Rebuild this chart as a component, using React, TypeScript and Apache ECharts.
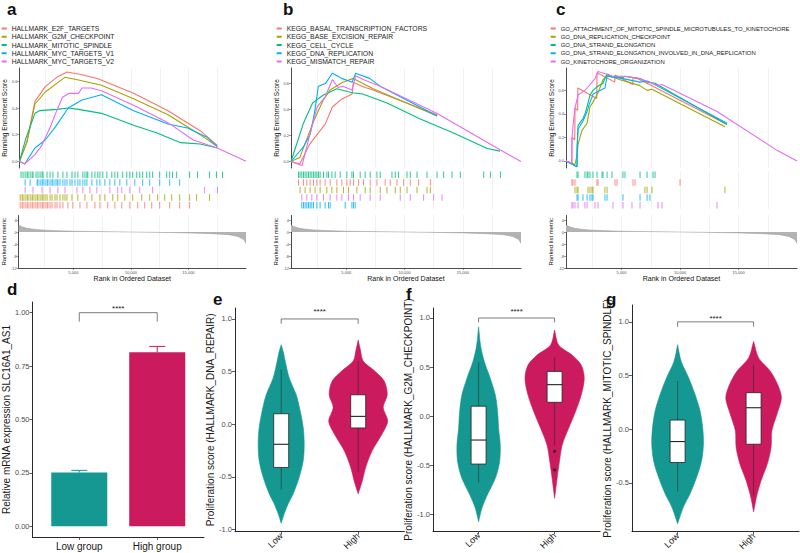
import React, { useEffect, useRef } from 'react';
import * as echarts from 'echarts';

const HUE = ['#F8766D', '#A3A500', '#00BF7D', '#00B0F6', '#E76BF3'];
const TEAL = '#149891';
const PINK = '#CC1A5F';
const FONT = 'Liberation Sans, Arial, Helvetica, sans-serif';

const XMIN = 250;
const XMAX = 20000;
const rankGrid = [2500, 5000, 7500, 10000, 12500, 15000, 17500];
const rankTicks = [5000, 10000, 15000];
const esTicks = [0, 0.2, 0.4, 0.6];
const metricTicks = [-12, -8, -4, 0, 4];

// ---------- panel a ----------
const aNames = ['HALLMARK_E2F_TARGETS', 'HALLMARK_G2M_CHECKPOINT', 'HALLMARK_MITOTIC_SPINDLE', 'HALLMARK_MYC_TARGETS_V1', 'HALLMARK_MYC_TARGETS_V2'];
const aE2F = [[250, 0], [900, 0.15], [1600, 0.45], [2500, 0.56], [3500, 0.63], [4400, 0.67], [5700, 0.65], [7100, 0.62], [10200, 0.51], [13200, 0.38], [16000, 0.23], [17500, 0.12]];
const aG2M = [[250, 0], [900, 0.14], [1600, 0.43], [2500, 0.52], [4200, 0.63], [5400, 0.61], [7400, 0.57], [10200, 0.47], [13200, 0.35], [16000, 0.2], [17500, 0.11]];
const aMitotic = [[250, 0], [800, 0.17], [1600, 0.36], [2000, 0.38], [3500, 0.39], [4500, 0.4], [5400, 0.39], [7400, 0.36], [10200, 0.27], [12300, 0.21], [14300, 0.14], [16000, 0.13], [17500, 0.1]];
const aMycV1 = [[250, 0], [700, -0.02], [1600, 0.1], [2500, 0.16], [3400, 0.26], [4500, 0.4], [5700, 0.46], [7400, 0.5], [10200, 0.38], [13200, 0.28], [14900, 0.25], [16600, 0.18], [17500, 0.11]];
const aMycV2 = [[250, 0], [700, -0.02], [1600, 0.05], [2200, 0.12], [2900, 0.25], [3500, 0.38], [4000, 0.48], [4600, 0.51], [5400, 0.51], [5700, 0.55], [6500, 0.55], [7400, 0.53], [10200, 0.42], [13200, 0.29], [15400, 0.16], [17500, 0.1], [20000, 0]];
const aHitGreen = [600, 770, 950, 1120, 1200, 1380, 1550, 1630, 1890, 2060, 2240, 2410, 2490, 2840, 3100, 3350, 3780, 4210, 4560, 4990, 5250, 5500, 5930, 6110, 6280, 6360, 6710, 6970, 7220, 7400, 7650, 8000, 8430, 8690, 8940, 9370, 9720, 9980, 10230, 10580, 10840, 11090, 11440, 11700, 11950, 12560, 13160, 13420, 13670, 14020, 15140, 15820, 16860, 17460, 17970];
const aHitBlue = [950, 1380, 1980, 2060, 2240, 2410, 2490, 2670, 2840, 2920, 3100, 3270, 3350, 3530, 3700, 3780, 3960, 4210, 4390, 4560, 4820, 4990, 5250, 5500, 5680, 5930, 6110, 6280, 6710, 7140, 7400, 7830, 8260, 8690, 9120, 9720, 10410, 11090, 11700, 12560, 13420, 14280];
const aHitPurple = [950, 1630, 2410, 3100, 3780, 4390, 5420, 5930, 6540, 7140, 8260, 8940, 9290, 9980, 10840, 11950, 16430, 17540];
const aHitOlive = [520, 690, 770, 950, 1120, 1200, 1380, 1550, 1630, 1810, 1980, 2060, 2240, 2410, 2490, 2670, 2840, 3100, 3270, 3530, 3700, 3960, 4210, 4390, 4560, 4990, 5500, 6110, 6710, 7400, 7830, 8510, 8940, 9550, 10230, 11010, 11700, 12380, 12990, 13590, 14280, 15140, 15740, 16860];
const aHitRed = [520, 690, 770, 950, 1120, 1200, 1380, 1550, 1630, 1810, 1980, 2060, 2240, 2410, 2490, 2670, 2840, 2920, 3100, 3270, 3530, 3700, 3960, 4210, 4640, 5070, 5680, 6280, 6970, 7400, 8080, 8690, 9290, 9980, 10660, 11270, 11870, 12560, 13420, 14280, 15140];

// ---------- panel b ----------
const bNames = ['KEGG_BASAL_TRANSCRIPTION_FACTORS', 'KEGG_BASE_EXCISION_REPAIR', 'KEGG_CELL_CYCLE', 'KEGG_DNA_REPLICATION', 'KEGG_MISMATCH_REPAIR'];
const bBasal = [[250, 0], [1000, -0.02], [1900, 0.14], [3200, 0.29], [3800, 0.42], [4600, 0.48], [5500, 0.52], [5600, 0.61], [6600, 0.57], [7000, 0.56], [12800, 0.36]];
const bBaseExc = [[250, 0], [1000, 0.03], [2100, 0.29], [3000, 0.47], [3600, 0.55], [4700, 0.61], [5600, 0.64], [7300, 0.56], [12800, 0.35]];
const bCellCycle = [[250, 0], [1300, 0.29], [2100, 0.45], [3000, 0.51], [4200, 0.56], [5500, 0.53], [6400, 0.52], [8500, 0.45], [11300, 0.33], [14200, 0.22], [17100, 0.1], [18200, 0.08]];
const bDnaRep = [[250, 0], [1300, 0.11], [1900, 0.21], [2300, 0.39], [2600, 0.58], [3200, 0.6], [3800, 0.68], [4200, 0.66], [4600, 0.64], [5500, 0.61], [5800, 0.68], [7000, 0.64], [7900, 0.58], [12800, 0.35]];
const bMismatch = [[250, 0], [1200, -0.03], [1900, 0.22], [2500, 0.42], [3200, 0.5], [3800, 0.63], [4300, 0.57], [4700, 0.58], [5500, 0.55], [5800, 0.66], [6500, 0.63], [7900, 0.58], [12800, 0.37], [18200, 0.09], [20000, 0]];
const bHitGreen = [890, 1030, 1180, 1320, 1460, 1610, 1750, 1890, 2040, 2180, 2320, 2470, 2610, 2750, 3040, 3330, 3470, 3760, 4040, 4470, 5050, 5480, 5620, 6190, 6620, 7050, 7630, 7910, 8920, 9200, 9490, 10210, 10490, 11070, 11930, 12790, 13360, 14080, 14790, 16800, 17370, 18230];
const bHitRed = [890, 1320, 1610, 1890, 2180, 2470, 2750, 3180, 3610, 4190, 4620, 5050, 5330, 5620, 6050, 6480, 7050, 7630, 8340, 8770, 9350, 9920, 10490, 11210, 12210];
const bHitOlive = [1030, 1460, 1890, 2320, 2750, 3330, 3760, 4190, 4760, 5190, 5910, 6620, 7050, 7910, 8490, 9200, 9630, 10210, 11070, 11930, 12210];
const bHitPurple = [1180, 1610, 2040, 2470, 3040, 3610, 4190, 4620, 5190, 5620, 6190, 7050, 7910, 9630, 10490, 11640, 12500, 13220];
const bHitBlue = [1180, 1320, 1460, 1610, 1750, 1890, 2040, 2180, 2470, 2750, 3180, 3470, 3610, 4900, 5480, 5620, 5760];

// ---------- panel c ----------
const cNames = ['GO_ATTACHMENT_OF_MITOTIC_SPINDLE_MICROTUBULES_TO_KINETOCHORE', 'GO_DNA_REPLICATION_CHECKPOINT', 'GO_DNA_STRAND_ELONGATION', 'GO_DNA_STRAND_ELONGATION_INVOLVED_IN_DNA_REPLICATION', 'GO_KINETOCHORE_ORGANIZATION'];
const cAttach = [[250, 0], [750, -0.02], [760, 0.2], [1000, 0.18], [1020, 0.45], [1250, 0.43], [1260, 0.62], [2880, 0.53], [2900, 0.75], [4420, 0.67], [4440, 0.73], [5960, 0.65], [5980, 0.71], [6330, 0.7], [7180, 0.66], [14020, 0.31]];
const cRepCheck = [[250, 0], [1020, -0.03], [1190, 0.05], [1280, 0.14], [1620, 0.26], [2050, 0.32], [2300, 0.46], [2560, 0.5], [2990, 0.58], [3410, 0.69], [3760, 0.73], [4870, 0.69], [6580, 0.64], [7180, 0.6], [7600, 0.61], [13840, 0.29]];
const cStrand = [[250, 0], [1190, -0.05], [1200, 0.12], [1280, 0.3], [1700, 0.36], [1870, 0.4], [2050, 0.46], [2300, 0.56], [2560, 0.6], [2900, 0.63], [3410, 0.66], [3760, 0.74], [4180, 0.72], [5120, 0.71], [5290, 0.72], [6580, 0.7], [7180, 0.67], [7860, 0.66], [14020, 0.31]];
const cStrandRep = [[250, 0], [1190, -0.05], [1200, 0.1], [1280, 0.27], [1700, 0.34], [2050, 0.42], [2300, 0.5], [2470, 0.54], [2560, 0.57], [3580, 0.62], [3760, 0.72], [5120, 0.7], [6580, 0.67], [7180, 0.68], [7430, 0.67], [14020, 0.32]];
const cKineto = [[250, 0], [750, -0.02], [760, 0.18], [850, 0.3], [1020, 0.45], [1280, 0.56], [1870, 0.6], [2050, 0.62], [2730, 0.7], [2990, 0.76], [4270, 0.72], [5120, 0.72], [5890, 0.71], [6580, 0.7], [8120, 0.64], [8460, 0.65], [13160, 0.42], [18290, 0.09], [20000, 0]];
const cHitGreen = [1190, 1280, 1870, 2050, 2130, 2300, 2560, 2900, 3330, 3410, 3760, 4180, 5120, 5290, 6580, 7180, 7690, 7860];
const cHitRed = [760, 850, 1020, 2900, 2990, 4440, 4610, 5980, 6150, 10000];
const cHitOlive = [1020, 1190, 1280, 2130, 2300, 2470, 2560, 3580, 3760, 7000, 7180, 7600, 13840];
const cHitBlue = [1190, 1280, 1700, 2050, 2300, 2470, 2560, 3580, 3760, 5120, 6580, 7180, 7430];
const cHitPurple = [760, 850, 1020, 1280, 1870, 2050, 2730, 2990, 4270, 5120, 5890, 6580, 8120, 8460, 13160];

// ranked list metric (shared)
const rankedMetric = [[250, 2.3], [500, 1.8], [900, 1.3], [1400, 1.0], [2200, 0.7], [3200, 0.5], [5000, 0.25], [8000, 0.1], [10000, 0], [12000, -0.1], [15000, -0.3], [17000, -0.55], [18500, -0.9], [19300, -1.5], [19800, -2.5], [20000, -3.8]];

// ---------- panel d ----------
const dGroups = ['Low group', 'High group'];
const dMeans = [0.252, 0.815];
const dUpper = [0.262, 0.842];
const dTicks = [0, 0.25, 0.5, 0.75, 1.0];

// ---------- violins (y, half-width) ----------
const vGroups = ['Low', 'High'];
const vTicks = [-1, -0.5, 0, 0.5, 1];
const eLow = [[0.755, 0], [0.68, 0.03], [0.6, 0.052], [0.44, 0.104], [0.28, 0.195], [0.126, 0.247], [-0.031, 0.286], [-0.189, 0.299], [-0.346, 0.286], [-0.503, 0.234], [-0.66, 0.156], [-0.755, 0.091], [-0.85, 0.039], [-0.94, 0]];
const eHigh = [[0.8, 0], [0.7, 0.03], [0.6, 0.065], [0.51, 0.208], [0.41, 0.338], [0.28, 0.377], [0.16, 0.325], [0.03, 0.383], [-0.09, 0.312], [-0.25, 0.182], [-0.41, 0.097], [-0.54, 0.052], [-0.66, 0]];
const fLow = [[0.91, 0], [0.72, 0.026], [0.555, 0.075], [0.384, 0.154], [0.214, 0.22], [0.044, 0.25], [-0.126, 0.263], [-0.297, 0.285], [-0.467, 0.276], [-0.636, 0.22], [-0.806, 0.114], [-0.942, 0.043], [-1.078, 0]];
const fHigh = [[0.877, 0], [0.724, 0.053], [0.622, 0.23], [0.52, 0.35], [0.384, 0.39], [0.214, 0.35], [0.044, 0.274], [-0.126, 0.184], [-0.297, 0.099], [-0.467, 0.063], [-0.636, 0.033], [-0.84, 0]];
const gLow = [[0.787, 0], [0.63, 0.048], [0.48, 0.145], [0.324, 0.23], [0.17, 0.296], [0.015, 0.33], [-0.139, 0.34], [-0.293, 0.316], [-0.448, 0.25], [-0.602, 0.164], [-0.725, 0.076], [-0.88, 0]];
const gHigh = [[0.818, 0], [0.664, 0.066], [0.54, 0.22], [0.417, 0.316], [0.293, 0.366], [0.139, 0.307], [-0.015, 0.24], [-0.17, 0.23], [-0.324, 0.18], [-0.478, 0.099], [-0.633, 0.037], [-0.77, 0]];
// boxes: min, q1, median, q3, max
const eBox = [[-0.62, -0.41, -0.19, 0.1, 0.52], [-0.45, -0.035, 0.075, 0.28, 0.6]];
const fBox = [[-0.68, -0.49, -0.245, 0.1, 0.55], [-0.3, 0.14, 0.32, 0.455, 0.6]];
const gBox = [[-0.58, -0.31, -0.115, 0.085, 0.45], [-0.62, -0.14, 0.2, 0.34, 0.6]];
const fOutliers = [[2, -0.36], [2, -0.55]];
// significance bracket: [x1, x2, y, tip, labelY]
const dSig = [1, 2, 1.0, 0.042, 1.018];
const eSig = [1, 2, 1.0, 0.045, 1.07];
const fSig = [1, 2, 1.0, 0.045, 1.066];
const gSig = [1, 2, 1.0, 0.045, 1.03];

function buildOption() {
  const grid: any[] = [];
  const xAxis: any[] = [];
  const yAxis: any[] = [];
  const series: any[] = [];
  const legend: any[] = [];

  const gridX = (g: number) => ({
    type: 'value', gridIndex: g, min: XMIN, max: XMAX,
    axisLine: { show: false, onZero: false }, axisTick: { show: false, customValues: rankGrid },
    axisLabel: { show: false }, splitLine: { show: true, lineStyle: { color: '#EBEBEB', width: 0.7 } },
  });

  const panels = [
    { left: 17, width: 229, names: aNames, es: [aE2F, aG2M, aMitotic, aMycV1, aMycV2], esMin: -0.05, esMax: 0.7, legendLeft: 1.7, legendFont: 6.75,
      rows: [[2, aHitGreen], [3, aHitBlue], [4, aHitPurple], [1, aHitOlive], [0, aHitRed]] },
    { left: 291, width: 230, names: bNames, es: [bBasal, bBaseExc, bCellCycle, bDnaRep, bMismatch], esMin: -0.05, esMax: 0.72, legendLeft: 276.7, legendFont: 6.8,
      rows: [[2, bHitGreen], [0, bHitRed], [1, bHitOlive], [4, bHitPurple], [3, bHitBlue]] },
    { left: 566, width: 231, names: cNames, es: [cAttach, cRepCheck, cStrand, cStrandRep, cKineto], esMin: -0.06, esMax: 0.79, legendLeft: 550.7, legendFont: 5.95,
      rows: [[2, cHitGreen], [0, cHitRed], [1, cHitOlive], [3, cHitBlue], [4, cHitPurple]] },
  ];

  panels.forEach((p: any) => {
    const g0 = grid.length;
    grid.push({ left: p.left, top: 68, width: p.width, height: 100 });
    grid.push({ left: p.left, top: 171, width: p.width, height: 38 });
    grid.push({ left: p.left, top: 215.5, width: p.width, height: 52.5 });
    const xER = xAxis.length; xAxis.push(gridX(g0));
    const xHit = xAxis.length; xAxis.push(gridX(g0 + 1));
    xAxis.push(gridX(g0 + 2));
    const xRank = xAxis.length;
    xAxis.push({
      type: 'value', gridIndex: g0 + 2, min: XMIN, max: XMAX, position: 'bottom',
      axisLine: { onZero: false, lineStyle: { color: '#000', width: 0.7 } },
      axisTick: { customValues: rankTicks, length: 2, lineStyle: { color: '#333', width: 0.5 } },
      axisLabel: { customValues: rankTicks, fontSize: 4, margin: 2, color: '#4d4d4d' },
      splitLine: { show: false },
      name: 'Rank in Ordered Dataset', nameLocation: 'middle', nameGap: 6, nameTextStyle: { fontSize: 7, color: '#111' },
    });
    const yER = yAxis.length;
    yAxis.push({
      type: 'value', gridIndex: g0, min: p.esMin, max: p.esMax,
      axisLine: { show: true, onZero: false, lineStyle: { color: '#000', width: 0.7 } },
      axisTick: { customValues: esTicks, length: 2, lineStyle: { color: '#333', width: 0.5 } },
      axisLabel: { customValues: esTicks, formatter: (v: number) => v.toFixed(1), fontSize: 4, margin: 2, color: '#4d4d4d' },
      splitLine: { show: false },
      name: 'Running Enrichment Score', nameLocation: 'middle', nameGap: 8.5, nameTextStyle: { fontSize: 6.5, color: '#111' },
    });
    const yHit = yAxis.length;
    yAxis.push({ type: 'value', gridIndex: g0 + 1, min: 0, max: 5, show: false });
    const yRank = yAxis.length;
    yAxis.push({
      type: 'value', gridIndex: g0 + 2, min: -12, max: 5.5,
      axisLine: { show: true, onZero: false, lineStyle: { color: '#000', width: 0.7 } },
      axisTick: { customValues: metricTicks, length: 2, lineStyle: { color: '#333', width: 0.5 } },
      axisLabel: { customValues: metricTicks, fontSize: 4, margin: 2, color: '#4d4d4d' },
      splitLine: { show: false },
      name: 'Ranked list metric', nameLocation: 'middle', nameGap: 8.5, nameTextStyle: { fontSize: 6, color: '#111' },
    });

    p.es.forEach((d: number[][], i: number) => {
      series.push({
        type: 'line', name: p.names[i], xAxisIndex: xER, yAxisIndex: yER, data: d,
        showSymbol: false, symbol: 'none', silent: true, z: 3,
        lineStyle: { color: HUE[i], width: 1.1 }, itemStyle: { color: HUE[i] },
      });
    });
    p.rows.forEach((row: any, r: number) => {
      const setIdx = row[0];
      const ranks: number[] = row[1];
      series.push({
        type: 'scatter', name: 'hits_' + p.names[setIdx], xAxisIndex: xHit, yAxisIndex: yHit,
        data: ranks.map((v) => [v, 4.5 - r]), symbol: 'rect', symbolSize: [0.9, 6.5], silent: true,
        itemStyle: { color: HUE[setIdx], opacity: 0.9 },
      });
    });
    series.push({
      type: 'line', name: 'metric_' + p.left, xAxisIndex: xRank, yAxisIndex: yRank, data: rankedMetric,
      showSymbol: false, symbol: 'none', silent: true,
      lineStyle: { color: '#9a9a9a', width: 0.5 }, areaStyle: { color: '#B3B3B3', opacity: 1 },
    });
    legend.push({
      orient: 'vertical', left: p.legendLeft, top: 24.5, padding: 0, itemWidth: 5, itemHeight: 2, itemGap: 0.25,
      icon: 'rect', selectedMode: false, data: p.names,
      textStyle: { fontSize: p.legendFont, lineHeight: 8, color: '#1a1a1a', padding: 0 },
    });
  });

  // ----- bottom panels -----
  const bottomAxisX = (g: number, labels: string[], rotate: number, fontSize: number) => ({
    type: 'value', gridIndex: g, min: 0.4, max: 2.6,
    axisLine: { onZero: false, lineStyle: { color: '#111', width: 0.9 } },
    axisTick: { customValues: [1, 2], length: 3, lineStyle: { color: '#333', width: 0.8 } },
    axisLabel: { customValues: [1, 2], formatter: (v: number) => labels[Math.round(v) - 1], rotate, fontSize, margin: rotate ? 3 : 4, color: '#1a1a1a' },
    splitLine: { show: false },
  });
  const bottomAxisY = (g: number, min: number, max: number, ticks: number[], digits: number, name: string, gap: number) => ({
    type: 'value', gridIndex: g, min, max,
    axisLine: { show: true, onZero: false, lineStyle: { color: '#111', width: 0.9 } },
    axisTick: { customValues: ticks, length: 3, lineStyle: { color: '#333', width: 0.8 } },
    axisLabel: { customValues: ticks, formatter: (v: number) => v.toFixed(digits), fontSize: 7.5, margin: 3, color: '#4d4d4d' },
    splitLine: { show: false },
    name, nameLocation: 'middle', nameGap: gap, nameTextStyle: { fontSize: 10, color: '#1a1a1a' },
  });

  const sigSeries = (xi: number, yi: number, sig: number[]) => ({
    type: 'custom', xAxisIndex: xi, yAxisIndex: yi, silent: true, z: 5,
    data: [sig],
    renderItem: (params: any, api: any) => {
      const x1 = api.value(0), x2 = api.value(1), y = api.value(2), t = api.value(3), ly = api.value(4);
      const a = api.coord([x1, y - t]), b = api.coord([x1, y]), c = api.coord([x2, y]), d = api.coord([x2, y - t]);
      const m = api.coord([(x1 + x2) / 2, ly]);
      return {
        type: 'group', children: [
          { type: 'polyline', shape: { points: [a, b, c, d] }, style: { stroke: '#5a5a5a', lineWidth: 0.8, fill: 'none' } },
          { type: 'text', x: m[0], y: m[1], style: { text: '****', fontSize: 8, fontFamily: FONT, fill: '#1a1a1a', align: 'center', verticalAlign: 'middle' } },
        ],
      };
    },
  });

  const violinSeries = (xi: number, yi: number, center: number, shape: number[][], color: string) => ({
    type: 'custom', xAxisIndex: xi, yAxisIndex: yi, silent: true, z: 2,
    data: [[center, 0]],
    renderItem: (params: any, api: any) => {
      const right = shape.map((s) => api.coord([center + s[1], s[0]]));
      const left = shape.slice().reverse().map((s) => api.coord([center - s[1], s[0]]));
      return { type: 'polygon', shape: { points: right.concat(left), smooth: 0.3 }, style: { fill: color, stroke: color, lineWidth: 0.6 } };
    },
  });

  const boxSeries = (xi: number, yi: number, boxes: number[][]) => ({
    type: 'custom', xAxisIndex: xi, yAxisIndex: yi, silent: true, z: 4,
    data: boxes.map((b, i) => [i + 1].concat(b)),
    renderItem: (params: any, api: any) => {
      const x = api.value(0);
      const pMin = api.coord([x, api.value(1)]);
      const pQ1 = api.coord([x, api.value(2)]);
      const pMed = api.coord([x, api.value(3)]);
      const pQ3 = api.coord([x, api.value(4)]);
      const pMax = api.coord([x, api.value(5)]);
      const hw = 7.5;
      return {
        type: 'group', children: [
          { type: 'line', shape: { x1: pMin[0], y1: pMin[1], x2: pMax[0], y2: pMax[1] }, style: { stroke: '#2a2a2a', lineWidth: 0.7, opacity: 0.8 } },
          { type: 'rect', shape: { x: pQ3[0] - hw, y: pQ3[1], width: 2 * hw, height: pQ1[1] - pQ3[1] }, style: { fill: '#fff', stroke: '#222', lineWidth: 0.8 } },
          { type: 'line', shape: { x1: pMed[0] - hw, y1: pMed[1], x2: pMed[0] + hw, y2: pMed[1] }, style: { stroke: '#222', lineWidth: 1.1 } },
        ],
      };
    },
  });

  // d
  const gD = grid.length;
  grid.push({ left: 28, top: 302, width: 176, height: 235 });
  const xD = xAxis.length; xAxis.push(bottomAxisX(gD, dGroups, 0, 10));
  const yD = yAxis.length; yAxis.push(bottomAxisY(gD, -0.05, 1.05, dTicks, 2, 'Relative mRNA expression SLC16A1_AS1', 16));
  series.push({
    type: 'bar', name: 'expression', xAxisIndex: xD, yAxisIndex: yD, barWidth: 56, silent: true,
    data: dMeans.map((v, i) => ({ value: [i + 1, v], itemStyle: { color: i === 0 ? TEAL : PINK } })),
  });
  series.push({
    type: 'custom', xAxisIndex: xD, yAxisIndex: yD, silent: true, z: 3,
    data: dMeans.map((v, i) => [i + 1, v, dUpper[i]]),
    renderItem: (params: any, api: any) => {
      const x = api.value(0);
      const p0 = api.coord([x, api.value(1)]);
      const p1 = api.coord([x, api.value(2)]);
      const col = params.dataIndex === 0 ? TEAL : PINK;
      return {
        type: 'group', children: [
          { type: 'line', shape: { x1: p0[0], y1: p0[1], x2: p1[0], y2: p1[1] }, style: { stroke: col, lineWidth: 1 } },
          { type: 'line', shape: { x1: p1[0] - 8, y1: p1[1], x2: p1[0] + 8, y2: p1[1] }, style: { stroke: col, lineWidth: 1 } },
        ],
      };
    },
  });
  series.push(sigSeries(xD, yD, dSig));

  const violinPanels = [
    { rect: { left: 235, top: 308, width: 169.4, height: 225 }, min: -1.019, max: 1.104, low: eLow, high: eHigh, box: eBox, sig: eSig, name: 'Proliferation score (HALLMARK_DNA_REPAIR)', gap: 18 },
    { rect: { left: 433, top: 308, width: 167.2, height: 223 }, min: -1.173, max: 1.102, low: fLow, high: fHigh, box: fBox, sig: fSig, name: 'Proliferation score (HALLMARK_G2M_CHECKPOINT)', gap: 15 },
    { rect: { left: 632, top: 305, width: 167.2, height: 228 }, min: -0.954, max: 1.157, low: gLow, high: gHigh, box: gBox, sig: gSig, name: 'Proliferation score (HALLMARK_MITOTIC_SPINDLE)', gap: 16 },
  ];
  violinPanels.forEach((v: any, k: number) => {
    const g = grid.length;
    grid.push(v.rect);
    const xi = xAxis.length; xAxis.push(bottomAxisX(g, vGroups, 45, 9));
    const yi = yAxis.length; yAxis.push(bottomAxisY(g, v.min, v.max, vTicks, 1, v.name, v.gap));
    series.push(violinSeries(xi, yi, 1, v.low, TEAL));
    series.push(violinSeries(xi, yi, 2, v.high, PINK));
    series.push(boxSeries(xi, yi, v.box));
    series.push(sigSeries(xi, yi, v.sig));
    if (k === 1) {
      series.push({ type: 'scatter', name: 'outliers', xAxisIndex: xi, yAxisIndex: yi, data: fOutliers, symbolSize: 3.2, silent: true, z: 6, itemStyle: { color: '#1a1a1a' } });
    }
  });

  const panelLabel = (t: string, x: number, y: number) => ({
    type: 'text', x, y, z: 100,
    style: { text: t, fontSize: 17, fontWeight: 'bold', fontFamily: FONT, fill: '#111', align: 'left', verticalAlign: 'middle' },
  });

  return {
    animation: false,
    backgroundColor: '#fff',
    textStyle: { fontFamily: FONT },
    grid, xAxis, yAxis, series, legend,
    graphic: { elements: [
      panelLabel('a', 7, 9), panelLabel('b', 283, 9), panelLabel('c', 556, 9),
      panelLabel('d', 7, 289), panelLabel('e', 213, 299.5), panelLabel('f', 406, 294), panelLabel('g', 606, 299),
    ] },
  };
}

export default function App() {
  const ref = useRef<HTMLDivElement>(null);
  useEffect(() => {
    document.body.style.margin = '0';
    const chart = echarts.init(ref.current as HTMLDivElement, null, { renderer: 'svg' });
    chart.setOption(buildOption() as any);
    return () => chart.dispose();
  }, []);
  return <div ref={ref} style={{ width: 800, height: 553 }} />;
}
